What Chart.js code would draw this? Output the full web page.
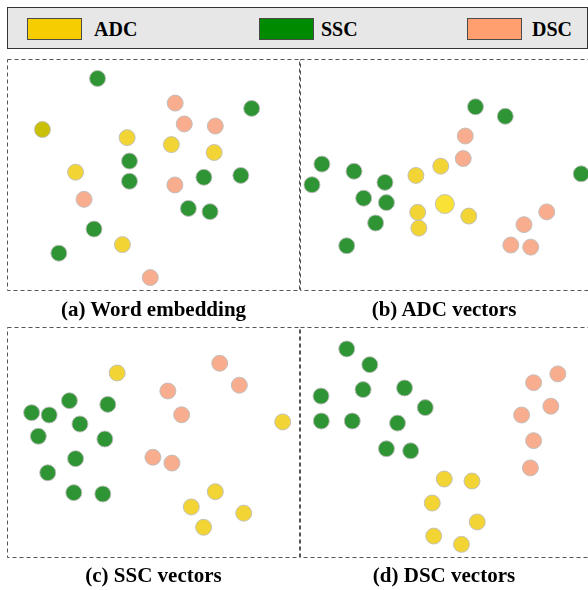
<!DOCTYPE html>
<html>
<head>
<meta charset="utf-8">
<script src="https://cdn.jsdelivr.net/npm/chart.js@4.4.0/dist/chart.umd.min.js"></script>
<style>
  body { margin: 0; background: #fff; width: 588px; height: 590px; position: relative; overflow: hidden;
         font-family: "Liberation Serif", "Times New Roman", serif; }
  .legend { position: absolute; left: 7px; top: 7px; width: 581px; height: 42px; box-sizing: border-box;
            background: #e7e7e7; border: 1px solid #333; }
  .sw { position: absolute; top: 10px; width: 55px; height: 22px; box-sizing: border-box; border: 1px solid #4a4a4a; }
  .lt { position: absolute; top: 9px; font-size: 20px; font-weight: bold; line-height: 24px; color: #000; }
  .panel { position: absolute; }
  .cap { position: absolute; font-size: 21px; font-weight: bold; text-align: center; line-height: 24px; color: #000; }
</style>
</head>
<body>
<div class="legend" id="legend"></div>
<div id="panels"></div>
<script>
// class names and legend colours
const classNames = ["ADC", "SSC", "DSC"];
const swatchColors = ["#f5cd00", "#008a00", "#ff9e6e"];
const pointColors = ["#f2d535", "#2f9534", "#f8ae8e"];

// (a) Word embedding
const wordAdc = [[41.0, 66.1], [56.1, 63.1], [70.7, 59.7], [23.4, 51.2], [39.4, 20.0]];
const wordAdcDark = [[12.1, 69.6]];
const wordSsc = [[30.9, 91.6], [83.5, 78.7], [41.8, 56.0], [41.8, 47.3], [67.2, 49.0],
                 [79.8, 49.8], [61.9, 35.6], [69.3, 34.2], [29.7, 26.7], [17.7, 16.3]];
const wordDsc = [[57.4, 81.0], [60.5, 72.0], [71.1, 71.1], [57.3, 45.7], [26.3, 39.5], [48.9, 5.8]];

// (b) ADC vectors
const adcAdc = [[39.7, 49.8], [48.2, 53.8], [40.3, 33.9], [40.7, 27.1], [57.8, 32.3]];
const adcAdcCenter = [[49.6, 37.5]];
const adcSsc = [[60.1, 79.4], [70.3, 75.3], [7.5, 54.7], [4.1, 45.8], [18.5, 51.6], [29.1, 46.8],
                [21.8, 40.0], [29.6, 38.1], [25.9, 29.3], [16.0, 19.5], [96.3, 50.5]];
const adcDsc = [[56.6, 66.8], [55.9, 57.1], [84.5, 34.1], [76.7, 28.6], [72.2, 19.8], [79.0, 18.9]];

// (c) SSC vectors
const sscAdc = [[37.6, 80.1], [94.1, 58.9], [71.1, 28.7], [62.9, 22.1], [80.8, 19.4], [67.1, 13.3]];
const sscSsc = [[21.3, 68.1], [34.4, 66.5], [8.4, 62.9], [14.4, 61.9], [24.9, 58.0], [10.7, 52.7],
                [33.4, 51.5], [23.4, 43.0], [13.9, 36.9], [22.8, 28.3], [32.7, 27.7]];
const sscDsc = [[72.6, 84.3], [79.3, 74.8], [54.9, 72.3], [59.6, 62.0], [49.8, 43.6], [56.3, 41.1]];

// (d) DSC vectors
const dscAdc = [[49.4, 34.2], [58.9, 33.3], [45.3, 23.8], [60.7, 15.6], [45.8, 9.5], [55.3, 5.9]];
const dscSsc = [[16.0, 90.5], [23.9, 83.7], [7.2, 70.1], [21.6, 72.9], [35.8, 73.6], [42.9, 65.1],
                [7.3, 59.3], [17.9, 59.3], [33.4, 58.4], [29.6, 47.3], [37.9, 46.4]];
const dscDsc = [[88.3, 79.7], [80.0, 75.9], [85.9, 65.7], [75.9, 61.9], [80.0, 50.8], [78.9, 39.0]];

const captions = ["(a) Word embedding", "(b) ADC vectors", "(c) SSC vectors", "(d) DSC vectors"];

// legend
const legendEl = document.getElementById("legend");
const swatchLeft = [19, 251, 459];
const textLeft = [86, 313, 524];
classNames.forEach((name, i) => {
    const sw = document.createElement("div");
    sw.className = "sw";
    sw.style.left = swatchLeft[i] + "px";
    sw.style.background = swatchColors[i];
    legendEl.appendChild(sw);
    const t = document.createElement("div");
    t.className = "lt";
    t.style.left = textLeft[i] + "px";
    t.textContent = name;
    legendEl.appendChild(t);
});

const toPoints = (arr) => arr.map(([x, y]) => ({ x, y }));

function series(label, arr, color, radius) {
    return {
        label,
        data: toPoints(arr),
        backgroundColor: color,
        borderColor: "rgba(190,190,190,0.9)",
        borderWidth: 1,
        pointRadius: radius || 8,
        clip: false,
    };
}

const framePlugin = {
    id: "frame",
    beforeDatasetsDraw(chart) {
        const { ctx, chartArea: a } = chart;
        ctx.save();
        ctx.strokeStyle = "#555";
        ctx.lineWidth = 1;
        ctx.setLineDash([4, 3]);
        ctx.strokeRect(a.left + 0.5, a.top + 0.5, a.right - a.left - 1, a.bottom - a.top - 1);
        ctx.restore();
    },
};

const PAD = 12;
const panels = [
    { box: [7, 59, 293, 232], capGap: 6, sets: [
        series("ADC", wordAdc, pointColors[0]),
        series("ADC*", wordAdcDark, "#c9c007"),
        series("SSC", wordSsc, pointColors[1]),
        series("DSC", wordDsc, pointColors[2]) ] },
    { box: [300, 59, 292, 232], capGap: 6, sets: [
        series("ADC", adcAdc, pointColors[0]),
        series("ADC*", adcAdcCenter, "#f9e235", 9.5),
        series("SSC", adcSsc, pointColors[1]),
        series("DSC", adcDsc, pointColors[2]) ] },
    { box: [7, 327, 293, 231], capGap: 5, sets: [
        series("ADC", sscAdc, pointColors[0]),
        series("SSC", sscSsc, pointColors[1]),
        series("DSC", sscDsc, pointColors[2]) ] },
    { box: [300, 327, 292, 231], capGap: 5, sets: [
        series("ADC", dscAdc, pointColors[0]),
        series("SSC", dscSsc, pointColors[1]),
        series("DSC", dscDsc, pointColors[2]) ] },
];

const host = document.getElementById("panels");
panels.forEach((p, i) => {
    const [x, y, w, h] = p.box;
    const div = document.createElement("div");
    div.className = "panel";
    div.style.left = (x - PAD) + "px";
    div.style.top = (y - PAD) + "px";
    div.style.width = (w + 2 * PAD) + "px";
    div.style.height = (h + 2 * PAD) + "px";
    const canvas = document.createElement("canvas");
    div.appendChild(canvas);
    host.appendChild(div);

    const cap = document.createElement("div");
    cap.className = "cap";
    cap.style.left = x + "px";
    cap.style.width = Math.min(w, 588 - x) + "px";
    cap.style.top = (y + h + p.capGap) + "px";
    cap.textContent = captions[i];
    host.appendChild(cap);

    new Chart(canvas.getContext("2d"), {
        type: "scatter",
        data: { datasets: p.sets },
        options: {
            responsive: true,
            maintainAspectRatio: false,
            animation: false,
            layout: { padding: PAD, autoPadding: false },
            plugins: { legend: { display: false }, tooltip: { enabled: false } },
            scales: {
                x: { type: "linear", min: 0, max: 100, display: false },
                y: { type: "linear", min: 0, max: 100, display: false },
            },
        },
        plugins: [framePlugin],
    });
});
</script>
</body>
</html>
